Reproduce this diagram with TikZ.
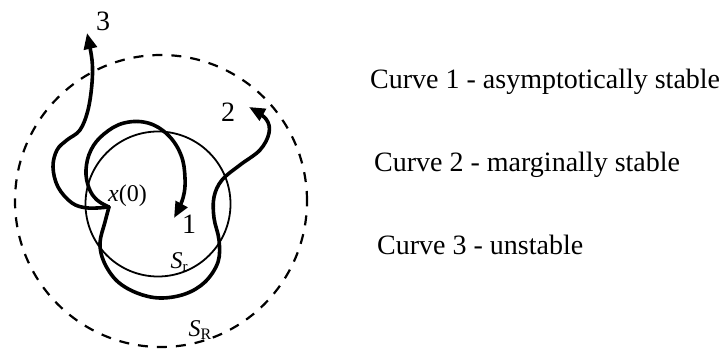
\documentclass[tikz,border=0pt]{standalone}
\usepackage{fontspec}
\setmainfont{Liberation Serif}
\usetikzlibrary{arrows.meta}
\begin{document}
\begin{tikzpicture}[x=1pt,y=-1pt,
  traj/.style={line width=3.6pt,line cap=round,line join=round,-{Triangle[length=16pt,width=13pt]}},
  thincirc/.style={line width=1.8pt},
  bigcirc/.style={line width=2.2pt,dash pattern=on 10pt off 9pt},
  lbl/.style={inner sep=0pt,font=\fontsize{28}{30}\selectfont},
  small/.style={inner sep=0pt,font=\fontsize{24}{26}\selectfont},
  legend/.style={inner sep=0pt,anchor=west,font=\fontsize{28}{32}\selectfont}]
\useasboundingbox (0,0) rectangle (728,352);
\fill[white] (0,0) rectangle (728,352);
\coordinate (cR) at (161,201);
\coordinate (cr) at (158,204);
\coordinate (x0) at (109,207);
\draw[bigcirc] (cR) circle (146pt);
\draw[thincirc] (cr) circle (72.5pt);
% curve 1
\draw[traj] plot[smooth,tension=0.65] coordinates {(x0) (97,200) (89,188) (86,170) (91,150) (104,134) (124,123) (148,123) (168,135) (181,155) (185,178) (183,198) (174,218)};
% curve 2
\draw[traj] plot[smooth,tension=0.6] coordinates {(x0) (105,222) (100,243) (104,262) (117,281) (137,293) (160,298) (185,294) (205,282) (218,262) (219,240) (214,218) (214,197) (222,180) (240,165) (260,150) (269,133) (266,119) (249,107)};
% curve 3
\draw[traj] plot[smooth,tension=0.6] coordinates {(x0) (88,208) (72,203) (58,187) (53,167) (57,150) (67,140) (80,130) (88,110) (92,83) (92,60) (87,33)};
\node[lbl] (n3) at (103,21) {3};
\node[lbl] (n2) at (228,112) {2};
\node[lbl] (n1) at (189,224) {1};
\node[small,anchor=west] (nx0) at (108,196) {\textit{x}(0)};
\node[small] (nSr) at (179,262) {\textit{S}\raisebox{-3pt}{\fontsize{15}{16}\selectfont r}};
\node[small] (nSR) at (200,330) {\textit{S}\raisebox{-3pt}{\fontsize{16}{17}\selectfont R}};
\node[legend] (l1) at (370,82) {Curve 1 - asymptotically stable};
\node[legend] (l2) at (374,165) {Curve 2 - marginally stable};
\node[legend] (l3) at (377,245) {Curve 3 - unstable};
\end{tikzpicture}
\end{document}
